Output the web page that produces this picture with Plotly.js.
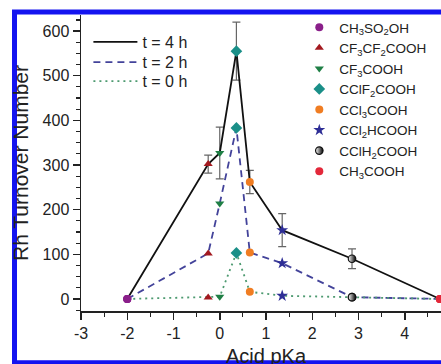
<!DOCTYPE html>
<html>
<head>
<meta charset="utf-8">
<script src="https://cdn.plot.ly/plotly-3.0.1.min.js"></script>
<style>
  html, body { margin: 0; padding: 0; background: #fff; overflow: hidden; width: 441px; height: 364px; }
  #chart { width: 460px; height: 380px; }
</style>
</head>
<body>
<div id="chart"></div>
<script>
// ---- data ----
const acids = [
  'CH<sub>3</sub>SO<sub>2</sub>OH',
  'CF<sub>3</sub>CF<sub>2</sub>COOH',
  'CF<sub>3</sub>COOH',
  'CClF<sub>2</sub>COOH',
  'CCl<sub>3</sub>COOH',
  'CCl<sub>2</sub>HCOOH',
  'CClH<sub>2</sub>COOH',
  'CH<sub>3</sub>COOH'
];
const pKa    = [-2, -0.25, 0.0, 0.36, 0.65, 1.35, 2.86, 4.76];
const ton4h  = [0, 302, 327, 555, 262, 154, 90, 0];
const err4h  = [0, 20, 58, 65, 26, 37, 22, 0];
const ton2h  = [0, 102, 214, 383, 104, 80, 4, 0];
const ton0h  = [0, 3, 5, 103, 16, 7, 4, 0];
const seriesNames = ['t = 4 h', 't = 2 h', 't = 0 h'];
const xTicks = [-3, -2, -1, 0, 1, 2, 3, 4];
const yTicks = [0, 100, 200, 300, 400, 500, 600];

// ---- styles ----
const acidColors  = ['#8a1f8a', '#a3191f', '#1f7f45', '#1a8f88', '#f07d22', '#2e2e96', '#111111', '#e3283a'];
const acidSymbols = ['circle', 'triangle-up', 'triangle-down', 'diamond', 'circle', 'star', 'circle', 'circle'];
const font = 'Liberation Sans, Arial, sans-serif';
const lineLegends = ['legend', 'legend3', 'legend4'];

const traces = [];
traces.push({
  x: pKa, y: ton4h, name: seriesNames[0], mode: 'lines', legend: lineLegends[0],
  line: {color: '#111', width: 1.8},
  error_y: {type: 'data', array: err4h, visible: true, color: '#666', thickness: 1.2, width: 4}
});
traces.push({
  x: pKa, y: ton2h, name: seriesNames[1], mode: 'lines', legend: lineLegends[1],
  line: {color: '#43439a', width: 1.8, dash: '7px,5px'}
});
traces.push({
  x: pKa, y: ton0h, name: seriesNames[2], mode: 'lines', legend: lineLegends[2],
  line: {color: '#4d9a70', width: 1.8, dash: '2px,4px'}
});
acids.forEach((a, i) => {
  const m = {size: 8, color: acidColors[i], symbol: acidSymbols[i], line: {width: 0}};
  if (i === 6) { m.color = '#ffffff'; m.gradient = {type: 'horizontal', color: '#000000'}; m.line = {width: 1.2, color: '#111'}; m.size = 7.5; }
  if (acidSymbols[i] === 'star') m.size = 9;
  if (acidSymbols[i] === 'diamond') m.size = 9;
  traces.push({
    x: [pKa[i], pKa[i], pKa[i]], y: [ton4h[i], ton2h[i], ton0h[i]],
    name: a, mode: 'markers', legend: 'legend2', marker: m
  });
});

function lineLegend(ytop) {
  return {
    x: 0.02, y: ytop, xanchor: 'left', yanchor: 'top', bgcolor: 'rgba(0,0,0,0)',
    font: {size: 16, family: font, color: '#222'}, itemwidth: 44, tracegroupgap: 0
  };
}

const layout = {
  width: 460, height: 380,
  margin: {l: 81, r: 9, t: 15, b: 69},
  paper_bgcolor: '#fff', plot_bgcolor: '#fff',
  font: {family: font, color: '#222'},
  xaxis: {
    range: [-3, 5], tickvals: xTicks, ticktext: xTicks.map(String),
    showgrid: false, zeroline: false, showline: true, linecolor: '#222', linewidth: 1.5,
    ticks: 'outside', ticklen: 7, tickwidth: 1.5, tickcolor: '#222',
    minor: {dtick: 0.5, ticks: 'outside', ticklen: 4, tickwidth: 1.2, tickcolor: '#222'},
    tickfont: {size: 16, family: font, color: '#222'},
    title: {text: 'Acid pKa', font: {size: 20, family: font, color: '#222'}, standoff: 8}
  },
  yaxis: {
    range: [-27, 636], tickvals: yTicks, ticktext: yTicks.map(String),
    showgrid: false, zeroline: false, showline: true, linecolor: '#222', linewidth: 1.5,
    ticks: 'outside', ticklen: 7, tickwidth: 1.5, tickcolor: '#222',
    minor: {dtick: 25, ticks: 'outside', ticklen: 4, tickwidth: 1.2, tickcolor: '#222'},
    tickfont: {size: 16, family: font, color: '#222'},
    title: {text: 'Rh Turnover Number', font: {size: 21, family: font, color: '#222'}, standoff: 8}
  },
  showlegend: true,
  legend: lineLegend(0.966),
  legend3: lineLegend(0.898),
  legend4: lineLegend(0.834),
  legend2: {
    x: 0.59, y: 1.01, xanchor: 'left', yanchor: 'top', bgcolor: 'rgba(0,0,0,0)',
    font: {size: 13.5, family: font, color: '#222'}, itemwidth: 30, tracegroupgap: 0
  },
  shapes: [{
    type: 'rect', xref: 'paper', yref: 'paper', layer: 'above',
    x0: -0.1797, x1: 1.2, y0: -0.1745, y1: 1.0101,
    line: {color: '#1414f0', width: 5}, fillcolor: 'rgba(0,0,0,0)'
  }]
};

Plotly.newPlot('chart', traces, layout, {displayModeBar: false, staticPlot: true});
</script>
</body>
</html>
